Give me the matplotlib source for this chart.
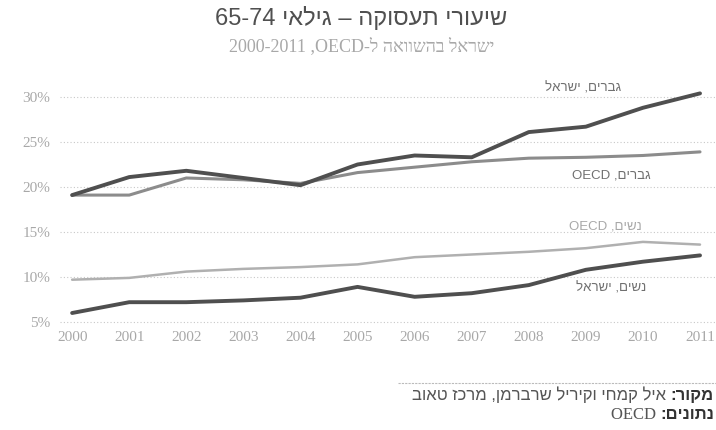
import re
import matplotlib
matplotlib.use("Agg")
import matplotlib.pyplot as plt

# Employment rates, ages 65-74 (percent)
years = [2000, 2001, 2002, 2003, 2004, 2005, 2006, 2007, 2008, 2009, 2010, 2011]
men_israel = [19.1, 21.1, 21.8, 21.0, 20.2, 22.5, 23.5, 23.3, 26.1, 26.7, 28.8, 30.4]
men_oecd = [19.1, 19.1, 21.0, 20.8, 20.4, 21.6, 22.2, 22.8, 23.2, 23.3, 23.5, 23.9]
women_oecd = [9.7, 9.9, 10.6, 10.9, 11.1, 11.4, 12.2, 12.5, 12.8, 13.2, 13.9, 13.6]
women_israel = [6.0, 7.2, 7.2, 7.4, 7.7, 8.9, 7.8, 8.2, 9.1, 10.8, 11.7, 12.4]
y_ticks = [5, 10, 15, 20, 25, 30]


def rtl(s):
    # matplotlib has no bidi support: flip the string, then put latin/digit runs back
    r = s[::-1]
    return re.sub(r"[0-9A-Za-z]+(?:[-.][0-9A-Za-z]+)*", lambda m: m.group(0)[::-1], r)


sans = ["Liberation Sans", "DejaVu Sans"]
serif = ["Liberation Serif", "DejaVu Sans"]

fig = plt.figure(figsize=(7.16, 4.30), dpi=100)
ax = fig.add_axes([0.084, 0.2407, 0.916, 0.5547])

ax.plot(years, women_oecd, color="#b0b0b0", lw=1.8, solid_capstyle="round")
ax.plot(years, men_oecd, color="#8c8c8c", lw=2.2, solid_capstyle="round")
ax.plot(years, women_israel, color="#4f4f4f", lw=2.8, solid_capstyle="round")
ax.plot(years, men_israel, color="#4f4f4f", lw=2.8, solid_capstyle="round")

ax.set_xlim(1999.79, 2011.28)
ax.set_ylim(4.5, 31)
ax.set_xticks(years)
ax.set_yticks(y_ticks)
ax.set_yticklabels([f"{v}%" for v in y_ticks])
ax.tick_params(length=0, labelsize=11, labelcolor="#a8a8a8")
ax.tick_params(axis="x", pad=3)
ax.tick_params(axis="y", pad=7)
for t in ax.get_xticklabels() + ax.get_yticklabels():
    t.set_family(serif)
for s in ax.spines.values():
    s.set_visible(False)
ax.grid(axis="y", color="#c8c8c8", ls=(0, (1, 2)), lw=0.8)
ax.set_axisbelow(True)

lab = dict(ha="center", va="center", fontsize=9.5, color="#707070", clip_on=False, family=sans)
ax.text(2008.95, 31.0, rtl("גברים, ישראל"), **lab)
ax.text(2009.45, 21.3, rtl("גברים, OECD"), **lab)
ax.text(2009.35, 15.6, rtl("נשים, OECD"), **dict(lab, color="#a8a8a8"))
ax.text(2009.45, 8.8, rtl("נשים, ישראל"), **lab)

fig.text(0.505, 0.958, rtl("שיעורי תעסוקה – גילאי 65-74"), ha="center", va="center",
         fontsize=17, color="#505050", family=sans)
fig.text(0.505, 0.893, rtl("ישראל בהשוואה ל-OECD, 2000-2011"), ha="center", va="center",
         fontsize=13, color="#a8a8a8", family=serif)

# source note, right-aligned at the edge
fig.add_artist(plt.Line2D([0.556, 1.0], [0.109, 0.109], color="#bbbbbb", lw=0.8, ls=(0, (2, 1))))
b1 = fig.text(0.997, 0.081, rtl("מקור:"), ha="right", va="center", fontsize=12,
              color="#333333", weight="bold", family=sans)
ax.annotate(rtl(" איל קמחי וקיריל שרברמן, מרכז טאוב"), xy=(0, 0.5), xycoords=b1,
            ha="right", va="center", fontsize=12, color="#555555", family=sans)
b2 = fig.text(0.997, 0.035, rtl("נתונים:"), ha="right", va="center", fontsize=12,
              color="#333333", weight="bold", family=sans)
ax.annotate("OECD ", xy=(0, 0.5), xycoords=b2, ha="right", va="center",
            fontsize=12, color="#555555", family=serif)

fig.savefig("out.png", dpi=100)
